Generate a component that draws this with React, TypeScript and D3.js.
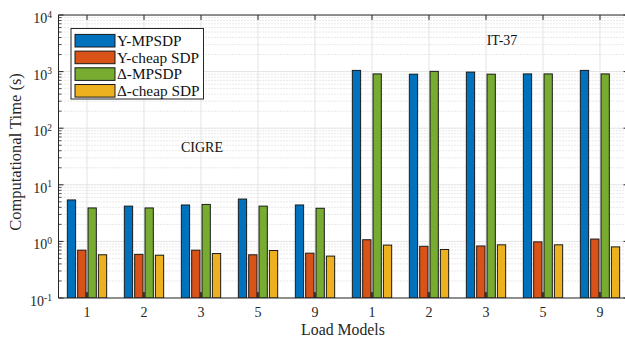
import React from "react";
import * as d3 from "d3";

const categories = ["1", "2", "3", "5", "9", "1", "2", "3", "5", "9"];
const seriesNames = ["Y-MPSDP", "Y-cheap SDP", "Δ-MPSDP", "Δ-cheap SDP"];
const seriesColors = ["#0072BD", "#D95319", "#77AC30", "#EDB120"];
const yMpsdp = [5.4, 4.2, 4.4, 5.6, 4.4, 1050, 900, 980, 910, 1050];
const yCheap = [0.7, 0.59, 0.7, 0.58, 0.62, 1.07, 0.82, 0.83, 0.98, 1.1];
const dMpsdp = [3.9, 3.9, 4.5, 4.2, 3.85, 910, 1010, 900, 910, 910];
const dCheap = [0.58, 0.57, 0.61, 0.69, 0.55, 0.86, 0.72, 0.87, 0.87, 0.8];
const yTickExps = [-1, 0, 1, 2, 3, 4];

const seriesValues = [yMpsdp, yCheap, dMpsdp, dCheap];

const W = 625;
const H = 341;
const left = 58.5;
const right = 628.5;
const top = 15;
const bottom = 298;
const font = "'Liberation Serif', 'Times New Roman', serif";

export default function App() {
  const x = d3
    .scaleBand<number>()
    .domain(d3.range(categories.length))
    .range([left, right]);
  const xs = d3
    .scaleBand<number>()
    .domain(d3.range(seriesNames.length))
    .range([-20.7, 20.7])
    .paddingInner(0.2)
    .paddingOuter(0.1);
  const y = d3.scaleLog().domain([0.1, 1e4]).range([bottom, top]);
  const cx = (i: number) => (x(i) as number) + x.bandwidth() / 2;

  const minor: number[] = [];
  for (let e = -1; e < 4; e++) {
    for (let m = 2; m <= 9; m++) minor.push(m * Math.pow(10, e));
  }

  return (
    <svg width={W} height={H} style={{ position: "absolute", left: 0, top: 0 }} fontFamily={font}>
      <defs>
        <clipPath id="plot">
          <rect x={left} y={top} width={right - left} height={bottom - top} />
        </clipPath>
      </defs>
      <rect x={0} y={0} width={W} height={H} fill="white" />
      <g clipPath="url(#plot)">
        {minor.map((v, i) => (
          <line key={"mg" + i} x1={left} x2={right} y1={y(v)} y2={y(v)} stroke="#c8c8c8" strokeWidth={0.8} strokeDasharray="1,2" />
        ))}
        {yTickExps.map((e) => (
          <line key={"Mg" + e} x1={left} x2={right} y1={y(Math.pow(10, e))} y2={y(Math.pow(10, e))} stroke="#e3e3e3" strokeWidth={1} />
        ))}
        {categories.map((c, i) => (
          <line key={"vg" + i} x1={cx(i)} x2={cx(i)} y1={top} y2={bottom} stroke="#e3e3e3" strokeWidth={1} />
        ))}
        {categories.map((c, i) => (
          <g key={"grp" + i}>
            {seriesValues.map((vals, s) => {
              const bx = cx(i) + (xs(s) as number);
              const by = y(vals[i]);
              return (
                <rect key={s} x={bx} y={by} width={xs.bandwidth()} height={bottom - by} fill={seriesColors[s]} stroke="#1a1a1a" strokeWidth={1} />
              );
            })}
            <rect x={cx(i) - 1.2} y={bottom - 6} width={2} height={6} fill="#3a3a3a" />
          </g>
        ))}
      </g>
      {/* axes box */}
      <line x1={left} x2={right} y1={bottom} y2={bottom} stroke="#262626" strokeWidth={1} />
      <line x1={left} x2={left} y1={top} y2={bottom} stroke="#262626" strokeWidth={1} />
      <line x1={left} x2={right} y1={top} y2={top} stroke="#262626" strokeWidth={1} />
      <line x1={right - 0.5} x2={right - 0.5} y1={top} y2={bottom} stroke="#262626" strokeWidth={1} />
      {/* y ticks */}
      {yTickExps.map((e) => {
        const yy = y(Math.pow(10, e));
        return (
          <g key={"yt" + e}>
            <line x1={left} x2={left + 5} y1={yy} y2={yy} stroke="#262626" />
            <line x1={right} x2={right - 5} y1={yy} y2={yy} stroke="#262626" />
            <text x={52} y={yy + 8} textAnchor="end" fontSize={14} fill="#262626">
              10
              <tspan dy={-5.5} fontSize={9.5}>{e}</tspan>
            </text>
          </g>
        );
      })}
      {minor.map((v, i) => (
        <g key={"ymt" + i}>
          <line x1={left} x2={left + 3} y1={y(v)} y2={y(v)} stroke="#262626" strokeWidth={0.8} />
          <line x1={right} x2={right - 3} y1={y(v)} y2={y(v)} stroke="#262626" strokeWidth={0.8} />
        </g>
      ))}
      {/* x ticks */}
      {categories.map((c, i) => (
        <g key={"xt" + i}>
          <line x1={cx(i)} x2={cx(i)} y1={bottom} y2={bottom - 5} stroke="#262626" />
          <line x1={cx(i)} x2={cx(i)} y1={top} y2={top + 5} stroke="#262626" />
          <text x={cx(i)} y={317} textAnchor="middle" fontSize={14} fill="#262626">{c}</text>
        </g>
      ))}
      <text x={343} y={335} textAnchor="middle" fontSize={15.8} fill="#262626">Load Models</text>
      <text transform={`translate(21,152) rotate(-90)`} textAnchor="middle" fontSize={16.5} fill="#262626">Computational Time (s)</text>
      <text x={202} y={152} textAnchor="middle" fontSize={14} fill="#111">CIGRE</text>
      <text x={502} y={45} textAnchor="middle" fontSize={14} fill="#111">IT-37</text>
      {/* legend */}
      <rect x={71} y={28.5} width={132.5} height={70.5} fill="white" stroke="#262626" strokeWidth={1} />
      {seriesNames.map((n, s) => {
        const ly = 40.7 + s * 16.7;
        return (
          <g key={"lg" + s}>
            <rect x={75} y={ly - 6.3} width={40} height={12.6} fill={seriesColors[s]} stroke="#1a1a1a" strokeWidth={1} />
            <text x={117} y={ly + 5.3} fontSize={15.3} fill="#111">{n}</text>
          </g>
        );
      })}
    </svg>
  );
}
